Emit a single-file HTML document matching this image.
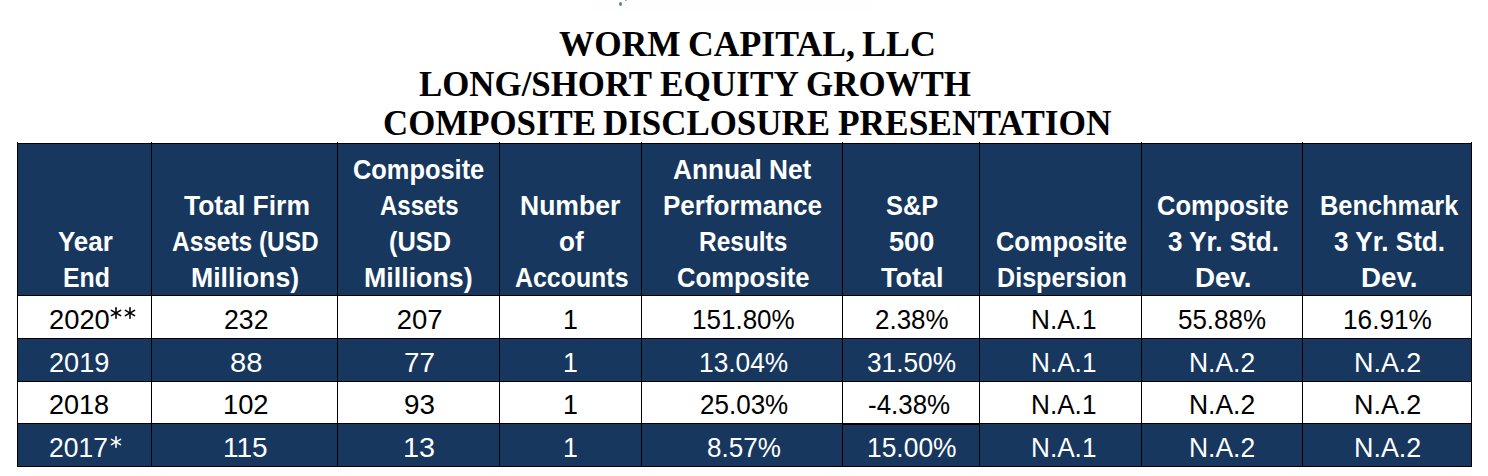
<!DOCTYPE html>
<html><head><meta charset="utf-8"><style>
html,body{margin:0;padding:0;background:#fff;width:1488px;height:476px;overflow:hidden;position:relative}
.t{position:absolute;white-space:nowrap;font-family:"Liberation Serif",serif;font-weight:bold;color:#000;line-height:1}
.r{position:absolute}
.c{position:absolute;white-space:nowrap;font-family:"Liberation Sans",sans-serif;line-height:1;transform-origin:0 0}
.h{font-weight:bold;color:#fff}
</style></head><body>

<div class="r" style="left:590px;top:0;width:282px;height:11px;background:#fefefe"></div>
<div class="r" style="left:619px;top:2px;width:3px;height:4px;border-radius:50%;background:#5b8a6e"></div>
<div class="r" style="left:625px;top:0;width:2px;height:1px;background:#9ab8a6"></div>
<div class="t" style="left:558.99px;top:27px;font-size:35px;transform-origin:0 0;transform:scaleX(1.0076)">WORM</div>
<div class="t" style="left:687.76px;top:27px;font-size:35px;transform-origin:0 0;transform:scaleX(1.0200)">CAPITAL,</div>
<div class="t" style="left:861.67px;top:27px;font-size:35px;transform-origin:0 0;transform:scaleX(1.0265)">LLC</div>
<div class="t" style="left:418.70px;top:67px;font-size:35px;transform-origin:0 0;transform:scaleX(0.9957)">LONG/SHORT</div>
<div class="t" style="left:660.39px;top:67px;font-size:35px;transform-origin:0 0;transform:scaleX(1.0059)">EQUITY</div>
<div class="t" style="left:805.90px;top:67px;font-size:35px;transform-origin:0 0;transform:scaleX(0.9982)">GROWTH</div>
<div class="t" style="left:382.51px;top:106px;font-size:35px;transform-origin:0 0;transform:scaleX(0.9957)">COMPOSITE</div>
<div class="t" style="left:602.50px;top:106px;font-size:35px;transform-origin:0 0;transform:scaleX(0.9973)">DISCLOSURE</div>
<div class="t" style="left:837.89px;top:106px;font-size:35px;transform-origin:0 0;transform:scaleX(1.0096)">PRESENTATION</div>
<div class="r" style="left:17px;top:143px;width:1455px;height:152px;background:#17375e"></div>
<div class="r" style="left:17px;top:338px;width:1455px;height:43px;background:#17375e"></div>
<div class="r" style="left:17px;top:423px;width:1455px;height:43px;background:#17375e"></div>
<div class="r" style="left:17px;top:142px;width:1px;height:325px;background:#000"></div>
<div class="r" style="left:151px;top:142px;width:1px;height:325px;background:#000"></div>
<div class="r" style="left:337px;top:142px;width:1px;height:325px;background:#000"></div>
<div class="r" style="left:499px;top:142px;width:1px;height:325px;background:#000"></div>
<div class="r" style="left:641px;top:142px;width:1px;height:325px;background:#000"></div>
<div class="r" style="left:842px;top:142px;width:1px;height:325px;background:#000"></div>
<div class="r" style="left:979px;top:142px;width:1px;height:325px;background:#000"></div>
<div class="r" style="left:1141px;top:142px;width:1px;height:325px;background:#000"></div>
<div class="r" style="left:1302px;top:142px;width:1px;height:325px;background:#000"></div>
<div class="r" style="left:1471px;top:142px;width:1px;height:325px;background:#000"></div>
<div class="r" style="left:17px;top:143px;width:1455px;height:1px;background:#000"></div>
<div class="r" style="left:17px;top:295px;width:1455px;height:1px;background:#000"></div>
<div class="r" style="left:17px;top:338px;width:1455px;height:1px;background:#000"></div>
<div class="r" style="left:17px;top:381px;width:1455px;height:1px;background:#000"></div>
<div class="r" style="left:17px;top:423px;width:1455px;height:1px;background:#000"></div>
<div class="r" style="left:17px;top:466px;width:1455px;height:1px;background:#000"></div>
<div class="r" style="left:842px;top:423px;width:137px;height:2px;background:#000"></div>
<div class="c h" style="left:57.86px;top:228px;font-size:27.5px;color:#fff;transform:scaleX(0.9421)">Year</div>
<div class="c h" style="left:62.89px;top:264px;font-size:27.5px;color:#fff;transform:scaleX(0.9042)">End</div>
<div class="c h" style="left:183.90px;top:192px;font-size:27.5px;color:#fff;transform:scaleX(0.9620)">Total Firm</div>
<div class="c h" style="left:172.11px;top:228px;font-size:27.5px;color:#fff;transform:scaleX(0.8890)">Assets (USD</div>
<div class="c h" style="left:191.16px;top:264px;font-size:27.5px;color:#fff;transform:scaleX(0.9694)">Millions)</div>
<div class="c h" style="left:353.48px;top:156px;font-size:27.5px;color:#fff;transform:scaleX(0.9236)">Composite</div>
<div class="c h" style="left:380.13px;top:192px;font-size:27.5px;color:#fff;transform:scaleX(0.8727)">Assets</div>
<div class="c h" style="left:389.08px;top:228px;font-size:27.5px;color:#fff;transform:scaleX(0.9231)">(USD</div>
<div class="c h" style="left:364.35px;top:264px;font-size:27.5px;color:#fff;transform:scaleX(0.9741)">Millions)</div>
<div class="c h" style="left:519.87px;top:192px;font-size:27.5px;color:#fff;transform:scaleX(0.9647)">Number</div>
<div class="c h" style="left:558.95px;top:228px;font-size:27.5px;color:#fff;transform:scaleX(0.9480)">of</div>
<div class="c h" style="left:514.99px;top:264px;font-size:27.5px;color:#fff;transform:scaleX(0.9057)">Accounts</div>
<div class="c h" style="left:672.95px;top:156px;font-size:27.5px;color:#fff;transform:scaleX(0.9528)">Annual Net</div>
<div class="c h" style="left:663.21px;top:192px;font-size:27.5px;color:#fff;transform:scaleX(0.9455)">Performance</div>
<div class="c h" style="left:698.62px;top:228px;font-size:27.5px;color:#fff;transform:scaleX(0.8896)">Results</div>
<div class="c h" style="left:677.17px;top:264px;font-size:27.5px;color:#fff;transform:scaleX(0.9321)">Composite</div>
<div class="c h" style="left:885.58px;top:192px;font-size:27.5px;color:#fff;transform:scaleX(0.9218)">S&amp;P</div>
<div class="c h" style="left:889.41px;top:228px;font-size:27.5px;color:#fff;transform:scaleX(0.9864)">500</div>
<div class="c h" style="left:880.70px;top:264px;font-size:27.5px;color:#fff;transform:scaleX(0.9806)">Total</div>
<div class="c h" style="left:995.58px;top:228px;font-size:27.5px;color:#fff;transform:scaleX(0.9229)">Composite</div>
<div class="c h" style="left:996.67px;top:264px;font-size:27.5px;color:#fff;transform:scaleX(0.9138)">Dispersion</div>
<div class="c h" style="left:1156.97px;top:192px;font-size:27.5px;color:#fff;transform:scaleX(0.9271)">Composite</div>
<div class="c h" style="left:1168.05px;top:228px;font-size:27.5px;color:#fff;transform:scaleX(0.9465)">3 Yr. Std.</div>
<div class="c h" style="left:1194.68px;top:264px;font-size:27.5px;color:#fff;transform:scaleX(1.0096)">Dev.</div>
<div class="c h" style="left:1319.95px;top:192px;font-size:27.5px;color:#fff;transform:scaleX(0.9230)">Benchmark</div>
<div class="c h" style="left:1334.05px;top:228px;font-size:27.5px;color:#fff;transform:scaleX(0.9474)">3 Yr. Std.</div>
<div class="c h" style="left:1360.78px;top:264px;font-size:27.5px;color:#fff;transform:scaleX(1.0077)">Dev.</div>
<div class="c" style="left:49.01px;top:306px;font-size:27.5px;color:#000;transform:scaleX(0.9932)">2020</div>
<svg class="r" style="left:107.95px;top:305.40px" width="16" height="16" viewBox="107.95 305.40 16 16"><g stroke="#000" stroke-width="1.6" stroke-linecap="round"><line x1="115.95" y1="308.10" x2="115.95" y2="318.70"/><line x1="111.36" y1="310.75" x2="120.54" y2="316.05"/><line x1="111.36" y1="316.05" x2="120.54" y2="310.75"/></g></svg>
<svg class="r" style="left:122.25px;top:305.40px" width="16" height="16" viewBox="122.25 305.40 16 16"><g stroke="#000" stroke-width="1.6" stroke-linecap="round"><line x1="130.25" y1="308.10" x2="130.25" y2="318.70"/><line x1="125.66" y1="310.75" x2="134.84" y2="316.05"/><line x1="125.66" y1="316.05" x2="134.84" y2="310.75"/></g></svg>
<div class="c" style="left:223.73px;top:306px;font-size:27.5px;color:#000;transform:scaleX(0.9698)">232</div>
<div class="c" style="left:396.70px;top:306px;font-size:27.5px;color:#000;transform:scaleX(1.0000)">207</div>
<div class="c" style="left:563.35px;top:306px;font-size:27.5px;color:#000;transform:scaleX(0.9750)">1</div>
<div class="c" style="left:691.51px;top:306px;font-size:27.5px;color:#000;transform:scaleX(0.9462)">151.80%</div>
<div class="c" style="left:874.96px;top:306px;font-size:27.5px;color:#000;transform:scaleX(0.9434)">2.38%</div>
<div class="c" style="left:1031.10px;top:306px;font-size:27.5px;color:#000;transform:scaleX(0.9515)">N.A.1</div>
<div class="c" style="left:1178.46px;top:306px;font-size:27.5px;color:#000;transform:scaleX(0.9429)">55.88%</div>
<div class="c" style="left:1343.39px;top:306px;font-size:27.5px;color:#000;transform:scaleX(0.9533)">16.91%</div>
<div class="c" style="left:49.01px;top:349px;font-size:27.5px;color:#fff;transform:scaleX(0.9864)">2019</div>
<div class="c" style="left:229.94px;top:349px;font-size:27.5px;color:#fff;transform:scaleX(1.0607)">88</div>
<div class="c" style="left:403.69px;top:349px;font-size:27.5px;color:#fff;transform:scaleX(1.0107)">77</div>
<div class="c" style="left:563.35px;top:349px;font-size:27.5px;color:#fff;transform:scaleX(0.9750)">1</div>
<div class="c" style="left:698.59px;top:349px;font-size:27.5px;color:#fff;transform:scaleX(0.9567)">13.04%</div>
<div class="c" style="left:866.85px;top:349px;font-size:27.5px;color:#fff;transform:scaleX(0.9538)">31.50%</div>
<div class="c" style="left:1031.10px;top:349px;font-size:27.5px;color:#fff;transform:scaleX(0.9515)">N.A.1</div>
<div class="c" style="left:1189.18px;top:349px;font-size:27.5px;color:#fff;transform:scaleX(0.9615)">N.A.2</div>
<div class="c" style="left:1353.94px;top:349px;font-size:27.5px;color:#fff;transform:scaleX(0.9785)">N.A.2</div>
<div class="c" style="left:49.02px;top:391px;font-size:27.5px;color:#000;transform:scaleX(0.9831)">2018</div>
<div class="c" style="left:222.71px;top:391px;font-size:27.5px;color:#000;transform:scaleX(0.9929)">102</div>
<div class="c" style="left:403.69px;top:391px;font-size:27.5px;color:#000;transform:scaleX(1.0107)">93</div>
<div class="c" style="left:563.35px;top:391px;font-size:27.5px;color:#000;transform:scaleX(0.9750)">1</div>
<div class="c" style="left:699.55px;top:391px;font-size:27.5px;color:#000;transform:scaleX(0.9462)">25.03%</div>
<div class="c" style="left:867.96px;top:391px;font-size:27.5px;color:#000;transform:scaleX(0.9424)">-4.38%</div>
<div class="c" style="left:1031.10px;top:391px;font-size:27.5px;color:#000;transform:scaleX(0.9515)">N.A.1</div>
<div class="c" style="left:1189.18px;top:391px;font-size:27.5px;color:#000;transform:scaleX(0.9615)">N.A.2</div>
<div class="c" style="left:1353.94px;top:391px;font-size:27.5px;color:#000;transform:scaleX(0.9785)">N.A.2</div>
<div class="c" style="left:49.04px;top:434px;font-size:27.5px;color:#fff;transform:scaleX(0.9627)">2017</div>
<svg class="r" style="left:108.25px;top:433.55px" width="16" height="16" viewBox="108.25 433.55 16 16"><g stroke="#fff" stroke-width="1.6" stroke-linecap="round"><line x1="116.25" y1="436.30" x2="116.25" y2="446.80"/><line x1="111.70" y1="438.92" x2="120.80" y2="444.17"/><line x1="111.70" y1="444.17" x2="120.80" y2="438.92"/></g></svg>
<div class="c" style="left:222.67px;top:434px;font-size:27.5px;color:#fff;transform:scaleX(1.0171)">115</div>
<div class="c" style="left:402.60px;top:434px;font-size:27.5px;color:#fff;transform:scaleX(1.0481)">13</div>
<div class="c" style="left:563.35px;top:434px;font-size:27.5px;color:#fff;transform:scaleX(0.9750)">1</div>
<div class="c" style="left:706.55px;top:434px;font-size:27.5px;color:#fff;transform:scaleX(0.9474)">8.57%</div>
<div class="c" style="left:866.98px;top:434px;font-size:27.5px;color:#fff;transform:scaleX(0.9600)">15.00%</div>
<div class="c" style="left:1031.10px;top:434px;font-size:27.5px;color:#fff;transform:scaleX(0.9515)">N.A.1</div>
<div class="c" style="left:1189.18px;top:434px;font-size:27.5px;color:#fff;transform:scaleX(0.9615)">N.A.2</div>
<div class="c" style="left:1353.94px;top:434px;font-size:27.5px;color:#fff;transform:scaleX(0.9785)">N.A.2</div>
</body></html>
